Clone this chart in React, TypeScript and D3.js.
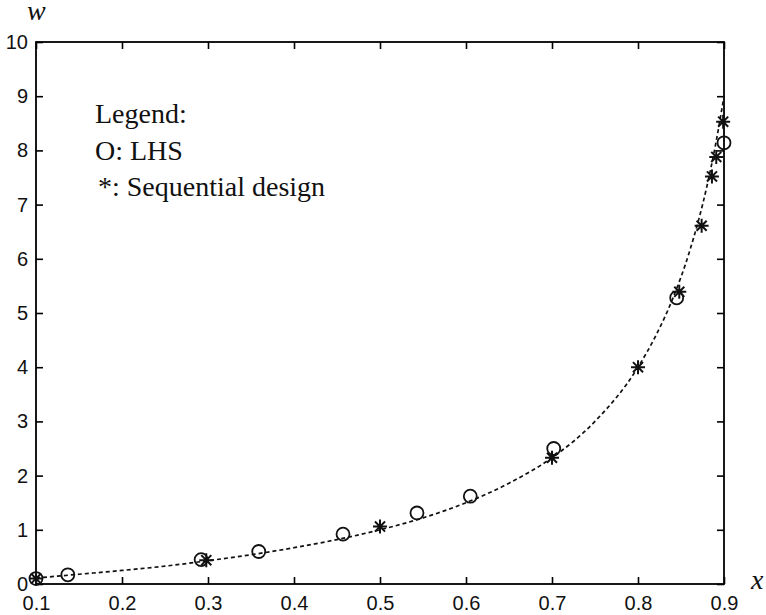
import React, { useEffect, useRef } from 'react'
import * as d3 from 'd3'

// dashed reference curve
const curveX = [0.1, 0.15, 0.2, 0.25, 0.3, 0.35, 0.4, 0.45, 0.5, 0.55, 0.6, 0.65, 0.7, 0.75, 0.8, 0.82, 0.84, 0.86, 0.88, 0.89, 0.9]
const curveW = [0.11, 0.18, 0.25, 0.33, 0.43, 0.54, 0.67, 0.82, 1.0, 1.22, 1.5, 1.86, 2.33, 3.0, 4.0, 4.56, 5.25, 6.14, 7.33, 8.09, 9.0]

// O: LHS
const lhsX = [0.1, 0.137, 0.292, 0.359, 0.457, 0.543, 0.605, 0.702, 0.845, 0.9]
const lhsW = [0.1, 0.17, 0.45, 0.6, 0.92, 1.31, 1.62, 2.5, 5.28, 8.14]

// *: Sequential design
const seqX = [0.1, 0.298, 0.5, 0.7, 0.8, 0.848, 0.874, 0.886, 0.891, 0.899]
const seqW = [0.1, 0.44, 1.06, 2.33, 4.0, 5.39, 6.61, 7.52, 7.88, 8.53]

const xTicks = [0.1, 0.2, 0.3, 0.4, 0.5, 0.6, 0.7, 0.8, 0.9]
const yTicks = [0, 1, 2, 3, 4, 5, 6, 7, 8, 9, 10]
const legendLines = ['Legend:', 'O: LHS', '*: Sequential design']

export default function App() {
  const ref = useRef<SVGSVGElement>(null)

  useEffect(() => {
    const svg = d3.select(ref.current)
    svg.selectAll('*').remove()

    const width = 766
    const height = 615
    const margin = { top: 42, right: 42, bottom: 31, left: 36 }
    const w = width - margin.left - margin.right
    const h = height - margin.top - margin.bottom

    const x = d3.scaleLinear().domain([0.1, 0.9]).range([0, w])
    const y = d3.scaleLinear().domain([0, 10]).range([h, 0])

    const g = svg.append('g').attr('transform', `translate(${margin.left},${margin.top})`)

    const tickFont = '"Liberation Sans Narrow", "Liberation Sans", Arial, sans-serif'
    const serif = '"Liberation Serif", "Times New Roman", serif'

    const styleAxis = (sel: any) => {
      sel.select('.domain').remove()
      sel.selectAll('line').attr('stroke', '#000').attr('stroke-width', 1.6)
      sel.selectAll('text').attr('fill', '#111').style('font-family', tickFont).style('font-size', '20px')
    }

    g.append('g')
      .attr('transform', `translate(0,${h})`)
      .call(d3.axisBottom(x).tickValues(xTicks).tickSize(-7).tickPadding(12).tickFormat(d3.format('.1f')))
      .call(styleAxis)

    g.append('g')
      .call(d3.axisLeft(y).tickValues(yTicks).tickSize(-7).tickPadding(8).tickFormat(d3.format('d')))
      .call(styleAxis)

    g.append('g')
      .call(d3.axisTop(x).tickValues(xTicks).tickSize(-7).tickFormat(() => ''))
      .call(styleAxis)

    g.append('g')
      .attr('transform', `translate(${w},0)`)
      .call(d3.axisRight(y).tickValues(yTicks).tickSize(-7).tickFormat(() => ''))
      .call(styleAxis)

    g.append('rect')
      .attr('width', w)
      .attr('height', h)
      .attr('fill', 'none')
      .attr('stroke', '#000')
      .attr('stroke-width', 1.8)

    const curve = curveX.map((v, i) => [v, curveW[i]] as [number, number])
    const line = d3.line<[number, number]>()
      .x(d => x(d[0]))
      .y(d => y(d[1]))
      .curve(d3.curveMonotoneX)

    g.append('path')
      .datum(curve)
      .attr('d', line)
      .attr('fill', 'none')
      .attr('stroke', '#111')
      .attr('stroke-width', 1.7)
      .attr('stroke-dasharray', '4,3')

    g.append('g')
      .selectAll('circle')
      .data(lhsX.map((v, i) => [v, lhsW[i]]))
      .enter()
      .append('circle')
      .attr('cx', d => x(d[0]))
      .attr('cy', d => y(d[1]))
      .attr('r', 6.5)
      .attr('fill', 'none')
      .attr('stroke', '#111')
      .attr('stroke-width', 1.8)

    const r = 7
    const k = r * 0.72
    const star = `M${-r},0L${r},0M0,${-r}L0,${r}M${-k},${-k}L${k},${k}M${-k},${k}L${k},${-k}`
    g.append('g')
      .selectAll('path')
      .data(seqX.map((v, i) => [v, seqW[i]]))
      .enter()
      .append('path')
      .attr('transform', d => `translate(${x(d[0])},${y(d[1])})`)
      .attr('d', star)
      .attr('fill', 'none')
      .attr('stroke', '#111')
      .attr('stroke-width', 2)

    const legend = g.append('g').attr('transform', 'translate(59,81)')
    legend.selectAll('text')
      .data(legendLines)
      .enter()
      .append('text')
      .attr('x', (d, i) => (i === 2 ? 3 : 0))
      .attr('y', (d, i) => i * 36.5)
      .attr('fill', '#111')
      .style('font-family', serif)
      .style('font-size', '28px')
      .text(d => d)

    svg.append('text')
      .attr('x', 27)
      .attr('y', 20)
      .attr('fill', '#111')
      .style('font-family', serif)
      .style('font-style', 'italic')
      .style('font-size', '28px')
      .text('w')

    svg.append('text')
      .attr('x', 751)
      .attr('y', 589)
      .attr('fill', '#111')
      .style('font-family', serif)
      .style('font-style', 'italic')
      .style('font-size', '28px')
      .text('x')
  }, [])

  return (
    <svg
      ref={ref}
      width={766}
      height={615}
      style={{ position: 'absolute', left: 0, top: 0, background: '#fff' }}
    />
  )
}
